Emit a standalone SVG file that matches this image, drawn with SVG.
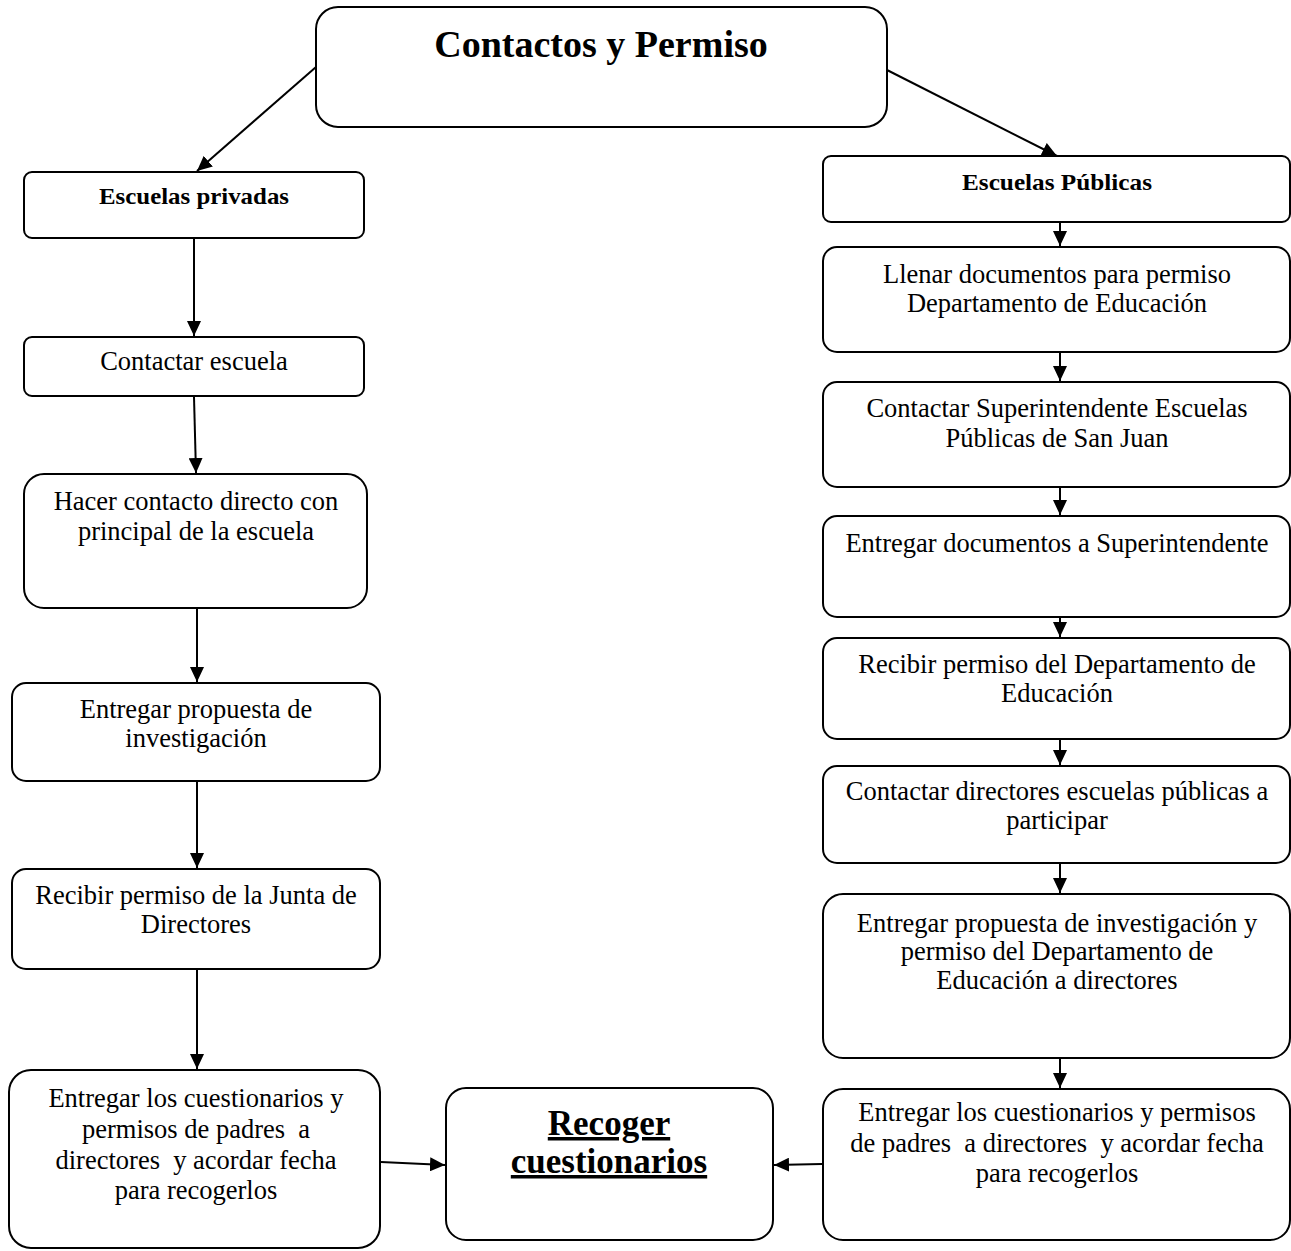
<svg xmlns="http://www.w3.org/2000/svg" width="1291" height="1251" viewBox="0 0 1291 1251">
<defs>
<marker id="ah" markerUnits="userSpaceOnUse" markerWidth="16" markerHeight="14" refX="15" refY="7" orient="auto">
<path d="M0,0 L15,7 L0,14 Z" fill="#000"/>
</marker>
<style>
.box{fill:#fff;stroke:#000;stroke-width:2}
.t{font-family:"Liberation Serif","Times New Roman",serif;font-size:26.5px;text-anchor:middle;fill:#000}
.b{font-family:"Liberation Serif","Times New Roman",serif;font-weight:bold;text-anchor:middle;fill:#000}
.c{stroke:#000;stroke-width:2;fill:none;marker-end:url(#ah)}
</style>
</defs>
<rect width="1291" height="1251" fill="#fff"/>
<g id="connectors">
<line class="c" x1="316" y1="67" x2="197" y2="171"/>
<line class="c" x1="887" y1="70" x2="1057" y2="156"/>
<line class="c" x1="194" y1="239" x2="194" y2="336"/>
<line class="c" x1="194" y1="397" x2="196" y2="473"/>
<line class="c" x1="197" y1="609" x2="197" y2="682"/>
<line class="c" x1="197" y1="782" x2="197" y2="868"/>
<line class="c" x1="197" y1="970" x2="197" y2="1069"/>
<line class="c" x1="1060" y1="223" x2="1060" y2="246"/>
<line class="c" x1="1060" y1="353" x2="1060" y2="381"/>
<line class="c" x1="1060" y1="488" x2="1060" y2="515"/>
<line class="c" x1="1060" y1="618" x2="1060" y2="637"/>
<line class="c" x1="1060" y1="740" x2="1060" y2="765"/>
<line class="c" x1="1060" y1="864" x2="1060" y2="893"/>
<line class="c" x1="1060" y1="1059" x2="1060" y2="1088"/>
<line class="c" x1="381" y1="1162" x2="445" y2="1165"/>
<line class="c" x1="822" y1="1164" x2="774" y2="1165"/>
</g>
<g id="title">
<rect class="box" x="316" y="7" width="571" height="120" rx="22"/>
<text class="b" x="601" y="57" font-size="38">Contactos y Permiso</text>
</g>
<g id="escuelas-privadas">
<rect class="box" x="24" y="172" width="340" height="66" rx="8"/>
<text class="b" x="194" y="204" font-size="23" textLength="190" lengthAdjust="spacingAndGlyphs">Escuelas privadas</text>
</g>
<g id="contactar-escuela">
<rect class="box" x="24" y="337" width="340" height="59" rx="8"/>
<text class="t" x="194" y="370">Contactar escuela</text>
</g>
<g id="hacer-contacto">
<rect class="box" x="24" y="474" width="343" height="134" rx="20"/>
<text class="t" x="196" y="510">Hacer contacto directo con</text>
<text class="t" x="196" y="540">principal de la escuela</text>
</g>
<g id="entregar-propuesta">
<rect class="box" x="12" y="683" width="368" height="98" rx="14"/>
<text class="t" x="196" y="718">Entregar propuesta de</text>
<text class="t" x="196" y="747">investigación</text>
</g>
<g id="recibir-junta">
<rect class="box" x="12" y="869" width="368" height="100" rx="14"/>
<text class="t" x="196" y="904">Recibir permiso de la Junta de</text>
<text class="t" x="196" y="933">Directores</text>
</g>
<g id="entregar-cuestionarios-privadas">
<rect class="box" x="9" y="1070" width="371" height="178" rx="22"/>
<text class="t" x="196" y="1107">Entregar los cuestionarios y</text>
<text class="t" x="196" y="1138" xml:space="preserve">permisos de padres  a</text>
<text class="t" x="196" y="1169" xml:space="preserve">directores  y acordar fecha</text>
<text class="t" x="196" y="1199">para recogerlos</text>
</g>
<g id="recoger">
<rect class="box" x="446" y="1088" width="327" height="152" rx="20"/>
<text class="b" x="609" y="1135" font-size="35" text-decoration="underline">Recoger</text>
<text class="b" x="609" y="1173" font-size="35" text-decoration="underline">cuestionarios</text>
</g>
<g id="escuelas-publicas">
<rect class="box" x="823" y="156" width="467" height="66" rx="8"/>
<text class="b" x="1057" y="190" font-size="23" textLength="190" lengthAdjust="spacingAndGlyphs">Escuelas Públicas</text>
</g>
<g id="llenar-documentos">
<rect class="box" x="823" y="247" width="467" height="105" rx="14"/>
<text class="t" x="1057" y="283">Llenar documentos para permiso</text>
<text class="t" x="1057" y="312">Departamento de Educación</text>
</g>
<g id="contactar-superintendente">
<rect class="box" x="823" y="382" width="467" height="105" rx="14"/>
<text class="t" x="1057" y="417">Contactar Superintendente Escuelas</text>
<text class="t" x="1057" y="447">Públicas de San Juan</text>
</g>
<g id="entregar-documentos">
<rect class="box" x="823" y="516" width="467" height="101" rx="14"/>
<text class="t" x="1057" y="552">Entregar documentos a Superintendente</text>
</g>
<g id="recibir-permiso-de">
<rect class="box" x="823" y="638" width="467" height="101" rx="14"/>
<text class="t" x="1057" y="673">Recibir permiso del Departamento de</text>
<text class="t" x="1057" y="702">Educación</text>
</g>
<g id="contactar-directores">
<rect class="box" x="823" y="766" width="467" height="97" rx="14"/>
<text class="t" x="1057" y="800">Contactar directores escuelas públicas a</text>
<text class="t" x="1057" y="829">participar</text>
</g>
<g id="entregar-propuesta-directores">
<rect class="box" x="823" y="894" width="467" height="164" rx="20"/>
<text class="t" x="1057" y="932">Entregar propuesta de investigación y</text>
<text class="t" x="1057" y="960">permiso del Departamento de</text>
<text class="t" x="1057" y="989">Educación a directores</text>
</g>
<g id="entregar-cuestionarios-publicas">
<rect class="box" x="823" y="1089" width="467" height="151" rx="20"/>
<text class="t" x="1057" y="1121">Entregar los cuestionarios y permisos</text>
<text class="t" x="1057" y="1152" xml:space="preserve">de padres  a directores  y acordar fecha</text>
<text class="t" x="1057" y="1182">para recogerlos</text>
</g>
</svg>
